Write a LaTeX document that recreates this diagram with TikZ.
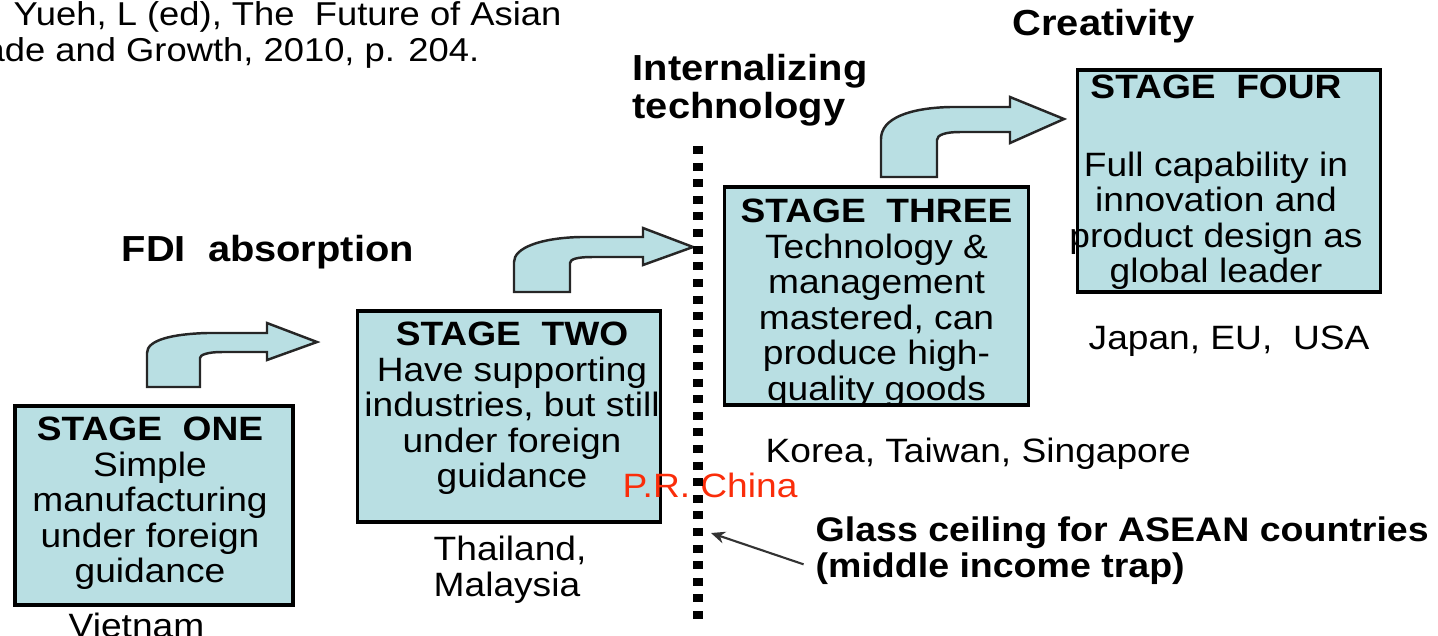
\documentclass[tikz,border=0pt]{standalone}
\usepackage{fontspec}
\setmainfont{Liberation Sans}[FakeStretch=1.1]
\usetikzlibrary{positioning,arrows.meta}
\definecolor{stagefill}{RGB}{185,223,227}
\definecolor{chinared}{RGB}{250,45,10}

\tikzset{
  stagebox/.style={draw, line width=0.9pt, fill=stagefill, inner sep=0pt},
  stagetext/.style={align=center, inner sep=0pt, font=\fontsize{9.6}{10.1}\selectfont},
  heading/.style={inner sep=0pt, font=\fontsize{10.3}{10.8}\selectfont\bfseries},
  plainlabel/.style={inner sep=0pt, font=\fontsize{9.6}{10.2}\selectfont},
  sourcelabel/.style={inner sep=0pt, anchor=base west, font=\fontsize{9.4}{10}\selectfont},
  turnarrow/.style={draw=black!85, line width=0.7pt, fill=stagefill},
}

\begin{document}
\begin{tikzpicture}[x=0.01cm, y=-0.01cm]
\useasboundingbox (0,0) rectangle (1438,635);

% source
\node[sourcelabel] (src) at (13,25) {Yueh, L (ed), The\ \ Future of Asian};
\node[sourcelabel] (srctwo) at (-16,61) {ade and Growth, 2010, p. 204.};

% headings
\node[heading, anchor=base west] (fdi) at (121,261) {FDI\ \ absorption};
\node[heading, anchor=north west, align=left] (intern) at (632,54) {Internalizing\\technology};
\node[heading, anchor=base west] (creat) at (1012,35) {Creativity};

% turning arrows between the stages
\draw[turnarrow] (147,387) -- (147,353) .. controls (147,340) and (172,334) .. (207,333)
  -- (267,333) -- (267,323) -- (317,342) -- (267,360) -- (267,352) -- (222,352)
  .. controls (207,352) and (200,355) .. (200,358) -- (200,387) -- cycle;
\draw[turnarrow] (514,292) -- (514,262) .. controls (514,248) and (540,238) .. (580,237)
  -- (643,237) -- (643,228) -- (693,247) -- (643,265) -- (643,257) -- (592,257)
  .. controls (578,257) and (570,259) .. (570,263) -- (570,292) -- cycle;
\draw[turnarrow] (881,177) -- (881,139) .. controls (881,118) and (910,108) .. (950,107)
  -- (1010,107) -- (1010,97) -- (1064,119) -- (1010,143) -- (1010,132) -- (960,132)
  .. controls (945,132) and (937,135) .. (937,140) -- (937,177) -- cycle;

% stages
\node[stagebox, minimum width=2.78cm, minimum height=1.99cm] (one) at (154,505.5) {};
\node[stagetext, below=0.12cm of one.north, xshift=-0.04cm] (onetext)
  {\textbf{STAGE\ \ ONE}\\Simple\\manufacturing\\under foreign\\guidance};

\node[stagebox, minimum width=3.02cm, minimum height=2.11cm] (two) at (509,416.5) {};
\node[stagetext, below=0.12cm of two.north, xshift=0.03cm] (twotext)
  {\textbf{STAGE\ \ TWO}\\Have supporting\\industries, but still\\under foreign\\guidance};

\node[stagebox, minimum width=3.03cm, minimum height=2.18cm] (three) at (876.5,296) {};
\node[stagetext, below=0.13cm of three.north] (threetext)
  {\textbf{STAGE\ \ THREE}\\Technology \&\\management\\mastered, can\\produce high-\\quality goods};

\node[stagebox, minimum width=3.02cm, minimum height=2.22cm] (four) at (1229,181) {};
\node[stagetext, below=0.06cm of four.north, xshift=-0.13cm] (fourtext)
  {\textbf{STAGE\ \ FOUR}\\[12pt]Full capability in\\innovation and\\product design as\\global leader};

% countries
\node[plainlabel, anchor=base west] (vietnam) at (68,637) {Vietnam};
\node[plainlabel, anchor=north west, align=left] (thai) at (433,535) {Thailand,\\Malaysia};
\node[plainlabel, anchor=base west] (korea) at (765,462) {Korea, Taiwan, Singapore};
\node[plainlabel, anchor=base west] (japan) at (1088,349) {Japan, EU,\ \ USA};
\node[plainlabel, anchor=base west, text=chinared] (china) at (622,497) {P.R. China};

% glass ceiling
\draw[line width=2.7pt, dash pattern=on 0.8mm off 0.86mm] (698,146) -- (698,620);
\node[heading, anchor=base west, font=\fontsize{9.7}{10}\selectfont\bfseries] (ceiling) at (815,541) {Glass ceiling for ASEAN countries};
\node[heading, anchor=base west, font=\fontsize{9.7}{10}\selectfont\bfseries] (trap) at (815,577) {(middle income trap)};
\coordinate (ceilpt) at (711,533);
\draw[black!80, line width=0.6pt, -{Stealth[length=1.4mm,width=1.2mm]}, shorten <=1.2mm] (trap.west) -- (ceilpt);

\end{tikzpicture}
\end{document}
